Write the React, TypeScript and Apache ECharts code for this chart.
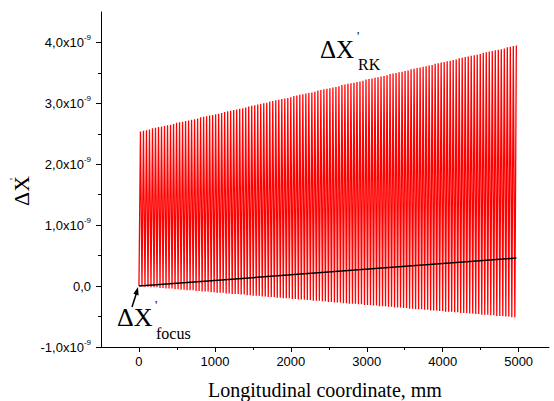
import React, { useEffect, useRef } from "react";
import * as echarts from "echarts";

// Upper peaks of the ΔX'_RK oscillation (units of 1e-9), one per cycle
const upperPeaks = [
  2.54, 2.55, 2.56, 2.57, 2.59, 2.60, 2.61, 2.62, 2.63, 2.64,
  2.65, 2.66, 2.68, 2.69, 2.70, 2.71, 2.72, 2.73, 2.74, 2.75,
  2.77, 2.78, 2.79, 2.80, 2.81, 2.82, 2.83, 2.84, 2.86, 2.87,
  2.88, 2.89, 2.90, 2.91, 2.92, 2.93, 2.95, 2.96, 2.97, 2.98,
  2.99, 3.00, 3.01, 3.03, 3.04, 3.05, 3.06, 3.07, 3.08, 3.09,
  3.10, 3.12, 3.13, 3.14, 3.15, 3.16, 3.17, 3.18, 3.19, 3.21,
  3.22, 3.23, 3.24, 3.25, 3.26, 3.27, 3.28, 3.30, 3.31, 3.32,
  3.33, 3.34, 3.35, 3.36, 3.37, 3.39, 3.40, 3.41, 3.42, 3.43,
  3.44, 3.45, 3.46, 3.48, 3.49, 3.50, 3.51, 3.52, 3.53, 3.54,
  3.56, 3.57, 3.58, 3.59, 3.60, 3.61, 3.62, 3.63, 3.65, 3.66,
  3.67, 3.68, 3.69, 3.70, 3.71, 3.72, 3.74, 3.75, 3.76, 3.77,
  3.78, 3.79, 3.80, 3.81, 3.83, 3.84, 3.85, 3.86, 3.87, 3.88,
  3.89, 3.90, 3.92, 3.93, 3.94, 3.95,
];

// Lower troughs of the ΔX'_RK oscillation (units of 1e-9), one per cycle
const lowerTroughs = [
  0.00, 0.00, -0.01, -0.01, -0.02, -0.02, -0.02, -0.03, -0.03, -0.04,
  -0.04, -0.04, -0.05, -0.05, -0.06, -0.06, -0.07, -0.07, -0.07, -0.08,
  -0.08, -0.09, -0.09, -0.09, -0.10, -0.10, -0.11, -0.11, -0.11, -0.12,
  -0.12, -0.13, -0.13, -0.13, -0.14, -0.14, -0.15, -0.15, -0.16, -0.16,
  -0.16, -0.17, -0.17, -0.18, -0.18, -0.18, -0.19, -0.19, -0.20, -0.20,
  -0.20, -0.21, -0.21, -0.22, -0.22, -0.22, -0.23, -0.23, -0.24, -0.24,
  -0.24, -0.25, -0.25, -0.26, -0.26, -0.27, -0.27, -0.27, -0.28, -0.28,
  -0.29, -0.29, -0.29, -0.30, -0.30, -0.31, -0.31, -0.31, -0.32, -0.32,
  -0.33, -0.33, -0.33, -0.34, -0.34, -0.35, -0.35, -0.35, -0.36, -0.36,
  -0.37, -0.37, -0.38, -0.38, -0.38, -0.39, -0.39, -0.40, -0.40, -0.40,
  -0.41, -0.41, -0.42, -0.42, -0.42, -0.43, -0.43, -0.44, -0.44, -0.44,
  -0.45, -0.45, -0.46, -0.46, -0.47, -0.47, -0.47, -0.48, -0.48, -0.49,
  -0.49, -0.49, -0.50, -0.50, -0.51, -0.51,
];

// Sampling grid of the oscillation along the longitudinal coordinate (mm)
const cycleStartMm = 0;
const cycleLengthMm = 39.6;

// ΔX'_focus line (mm, units of 1e-9)
const focusX = [0, 4970];
const focusY = [0.0, 0.46];

// Axes
const xTickLabels = [0, 1000, 2000, 3000, 4000, 5000];
const yTickLabels = [-1, 0, 1, 2, 3, 4];

export default function App() {
  const ref = useRef<HTMLDivElement>(null);

  useEffect(() => {
    if (!ref.current) return;
    const chart = echarts.init(ref.current, undefined, { renderer: "svg" });

    const rkData: number[][] = [];
    for (let i = 0; i < upperPeaks.length; i++) {
      const x0 = cycleStartMm + i * cycleLengthMm;
      rkData.push([x0, lowerTroughs[i]]);
      rkData.push([x0 + cycleLengthMm / 2, upperPeaks[i]]);
    }
    const focusData = focusX.map((x, i) => [x, focusY[i]]);

    const sans = "Liberation Sans";
    const serif = "Liberation Serif";

    const xRange = { min: -500, max: 5400 };
    const yRange = { min: -1, max: 4.5 };

    chart.setOption({
      animation: false,
      backgroundColor: "#ffffff",
      grid: {
        left: 101,
        right: 5,
        top: 12,
        bottom: 54,
        containLabel: false,
        outerBoundsMode: "none",
      },
      xAxis: [
        {
          type: "value",
          ...xRange,
          interval: 500,
          position: "bottom",
          name: "Longitudinal coordinate, mm",
          nameLocation: "middle",
          nameGap: 33,
          nameTextStyle: { fontFamily: serif, fontSize: 20, color: "#000" },
          axisLine: { show: true, onZero: false, lineStyle: { color: "#000", width: 1 } },
          axisTick: { show: true, inside: false, length: 3, lineStyle: { color: "#000" } },
          axisLabel: {
            margin: 8,
            fontFamily: sans,
            fontSize: 13,
            color: "#000",
            showMaxLabel: false,
            showMinLabel: false,
            formatter: (v: number) => (xTickLabels.includes(v) ? String(v) : ""),
          },
          splitLine: { show: false },
        },
        {
          type: "value",
          ...xRange,
          position: "bottom",
          axisLine: { show: false, onZero: false },
          axisTick: {
            show: true,
            inside: false,
            length: 5,
            customValues: xTickLabels,
            lineStyle: { color: "#000" },
          },
          axisLabel: { show: false },
          splitLine: { show: false },
        },
      ],
      yAxis: [
        {
          type: "value",
          ...yRange,
          interval: 0.5,
          position: "left",
          axisLine: { show: true, onZero: false, lineStyle: { color: "#000", width: 1 } },
          axisTick: { show: true, inside: false, length: 3, lineStyle: { color: "#000" } },
          axisLabel: {
            margin: 10,
            fontFamily: sans,
            fontSize: 13,
            color: "#000",
            showMaxLabel: false,
            formatter: (v: number) => {
              if (!yTickLabels.includes(v)) return "";
              if (v === 0) return "{b|0,0}";
              return "{b|" + v.toFixed(1).replace(".", ",") + "x10}{s|-9}";
            },
            rich: {
              b: { fontFamily: sans, fontSize: 13, color: "#000" },
              s: { fontFamily: sans, fontSize: 8, color: "#000", padding: [0, 0, 9, 0] },
            },
          },
          splitLine: { show: false },
        },
        {
          type: "value",
          ...yRange,
          position: "left",
          axisLine: { show: false, onZero: false },
          axisTick: {
            show: true,
            inside: false,
            length: 5,
            customValues: yTickLabels,
            lineStyle: { color: "#000" },
          },
          axisLabel: { show: false },
          splitLine: { show: false },
        },
      ],
      series: [
        {
          type: "line",
          data: rkData,
          symbol: "none",
          lineStyle: { color: "#ff0000", width: 1.3 },
          z: 2,
        },
        {
          type: "line",
          data: focusData,
          symbol: "none",
          lineStyle: { color: "#000000", width: 1.5 },
          z: 3,
        },
      ],
      graphic: [
        // ΔX'_RK label
        { type: "text", x: 320, y: 37, style: { text: "ΔX", font: "25px " + serif, fill: "#000" } },
        { type: "text", x: 357, y: 29, style: { text: "'", font: "13px " + serif, fill: "#000" } },
        { type: "text", x: 358, y: 56, style: { text: "RK", font: "16px " + serif, fill: "#000" } },
        // ΔX'_focus label
        { type: "text", x: 117, y: 304, style: { text: "ΔX", font: "26px " + serif, fill: "#000" } },
        { type: "text", x: 155, y: 298, style: { text: "'", font: "13px " + serif, fill: "#000" } },
        { type: "text", x: 156, y: 325, style: { text: "focus", font: "16px " + serif, fill: "#000" } },
        // arrow
        {
          type: "line",
          shape: { x1: 132, y1: 307, x2: 136.5, y2: 293 },
          style: { stroke: "#000", lineWidth: 1.5 },
        },
        {
          type: "polygon",
          shape: { points: [[138, 287], [138.6, 295.4], [133.4, 293.8]] },
          style: { fill: "#000" },
        },
        // y axis title ΔX'
        {
          type: "group",
          x: 21,
          y: 191,
          rotation: Math.PI / 2,
          children: [
            {
              type: "text",
              x: 0,
              y: 0,
              style: { text: "ΔX", font: "22px " + serif, fill: "#000", align: "center", verticalAlign: "middle" },
            },
            {
              type: "text",
              x: 12,
              y: -14,
              style: { text: "'", font: "11px " + serif, fill: "#000", align: "center", verticalAlign: "top" },
            },
          ],
        },
      ],
    });

    return () => chart.dispose();
  }, []);

  return (
    <div
      ref={ref}
      style={{ position: "fixed", left: 0, top: 0, width: 554, height: 401 }}
    />
  );
}
